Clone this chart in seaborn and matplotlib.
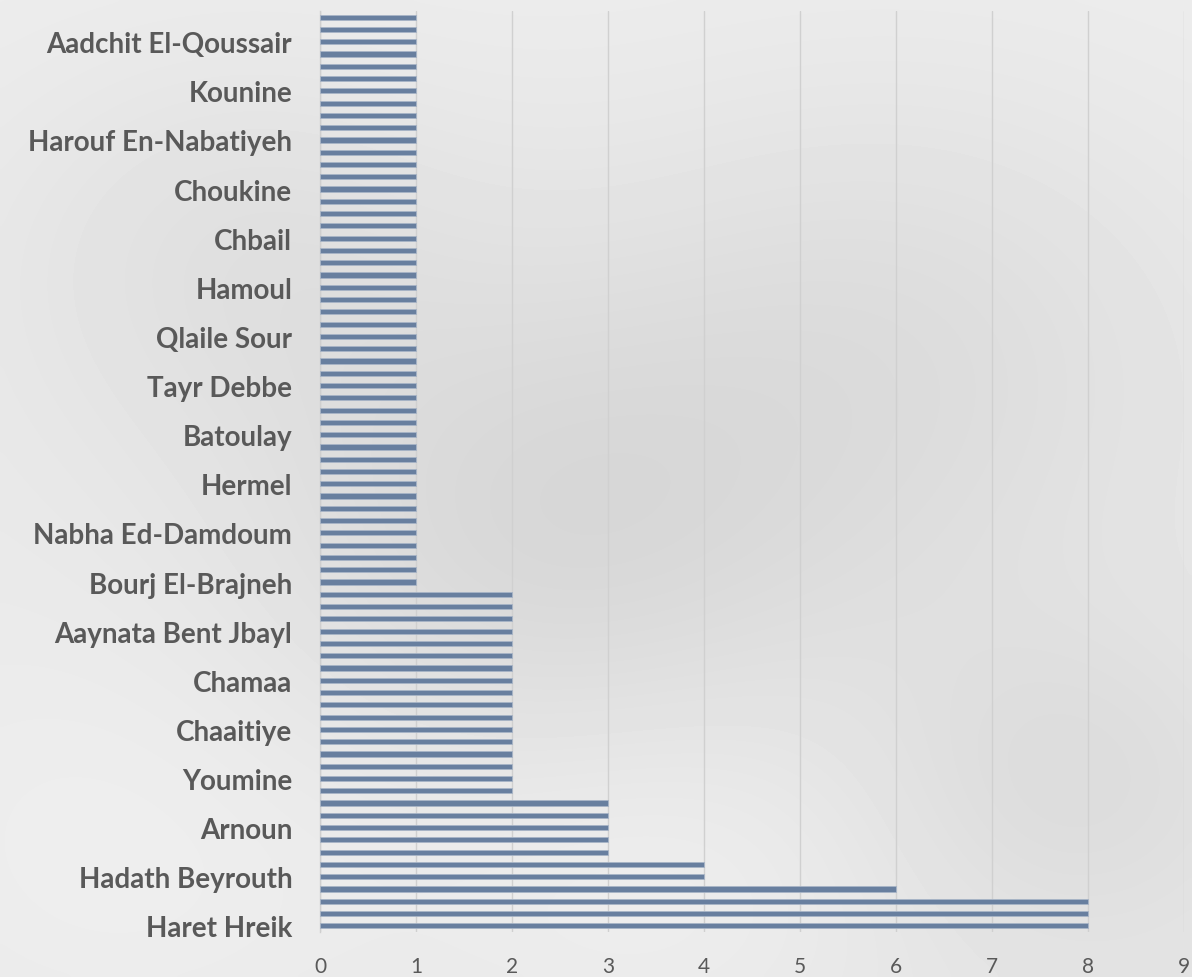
import numpy as np
import pandas as pd
import matplotlib
matplotlib.use('Agg')
import matplotlib.pyplot as plt
import seaborn as sns

# Bar values from the bottom bar (Haret Hreik) up to the top bar
values = [8, 8, 8, 6, 4, 4, 3, 3, 3, 3, 3,
          2, 2, 2, 2, 2, 2, 2, 2, 2, 2, 2, 2, 2, 2, 2, 2, 2,
          1, 1, 1, 1, 1, 1, 1, 1, 1, 1, 1, 1, 1, 1, 1, 1, 1, 1, 1, 1,
          1, 1, 1, 1, 1, 1, 1, 1, 1, 1, 1, 1, 1, 1, 1, 1, 1, 1, 1, 1,
          1, 1, 1, 1, 1, 1, 1]

# Only every fourth bar carries a visible label (bottom-up)
shown_labels = ['Haret Hreik', 'Hadath Beyrouth', 'Arnoun', 'Youmine', 'Chaaitiye',
                'Chamaa', 'Aaynata Bent Jbayl', 'Bourj El-Brajneh', 'Nabha Ed-Damdoum',
                'Hermel', 'Batoulay', 'Tayr Debbe', 'Qlaile Sour', 'Hamoul', 'Chbail',
                'Choukine', 'Harouf En-Nabatiyeh', 'Kounine', 'Aadchit El-Qoussair']
label_step = 4
x_ticks = [0, 1, 2, 3, 4, 5, 6, 7, 8, 9]

n = len(values)
slots = [str(i) for i in range(n)]
df = pd.DataFrame({'slot': slots, 'value': values})
order = slots[::-1]  # top bar first

sns.set_theme(style='white')
plt.rcParams['font.family'] = ['Lato', 'DejaVu Sans']

fig = plt.figure(figsize=(11.92, 9.78), dpi=100)

# soft cloudy backdrop
bg = fig.add_axes([0, 0, 1, 1], zorder=-10)
yy, xx = np.mgrid[0:1:200j, 0:1:240j]
field = 0.93 - 0.03 * yy
for cx, cy, s, a in [(0.45, 0.55, 0.18, 0.06), (0.75, 0.35, 0.2, 0.05),
                     (0.2, 0.25, 0.15, 0.04), (0.9, 0.8, 0.12, 0.04),
                     (0.55, 0.9, 0.15, -0.03), (0.1, 0.9, 0.2, -0.03)]:
    field -= a * np.exp(-((xx - cx) ** 2 + (yy - cy) ** 2) / (2 * s ** 2))
bg.imshow(field, cmap='gray', vmin=0, vmax=1, aspect='auto', extent=[0, 1, 0, 1],
          interpolation='bicubic')
bg.axis('off')

ax = fig.add_axes([320 / 1192, 45 / 978, 864 / 1192, 921 / 978])
ax.set_facecolor('none')

sns.barplot(data=df, x='value', y='slot', order=order, orient='h', ax=ax,
            color='#687F9F', edgecolor='#A8B5C7', linewidth=0.6, width=0.42,
            saturation=1, zorder=3)

ax.set_xlim(0, 9)
ax.set_xticks(x_ticks)
ax.set_xticklabels([str(t) for t in x_ticks], fontsize=15, color='#595959')

tick_pos = [order.index(str(i * label_step)) for i in range(len(shown_labels))]
ax.set_yticks(tick_pos)
ax.set_yticklabels(shown_labels, fontsize=20, fontweight='bold', color='#595959')

ax.grid(axis='x', color='#D0D0D0', linewidth=1, zorder=0)
ax.set_axisbelow(True)
for side in ['top', 'right', 'bottom']:
    ax.spines[side].set_visible(False)
ax.spines['left'].set_color('#CFCFCF')
ax.spines['left'].set_linewidth(1)
ax.tick_params(axis='both', length=0)
ax.tick_params(axis='x', pad=17)
ax.tick_params(axis='y', pad=20)
ax.set_xlabel('')
ax.set_ylabel('')

fig.savefig('out.png', dpi=100)
